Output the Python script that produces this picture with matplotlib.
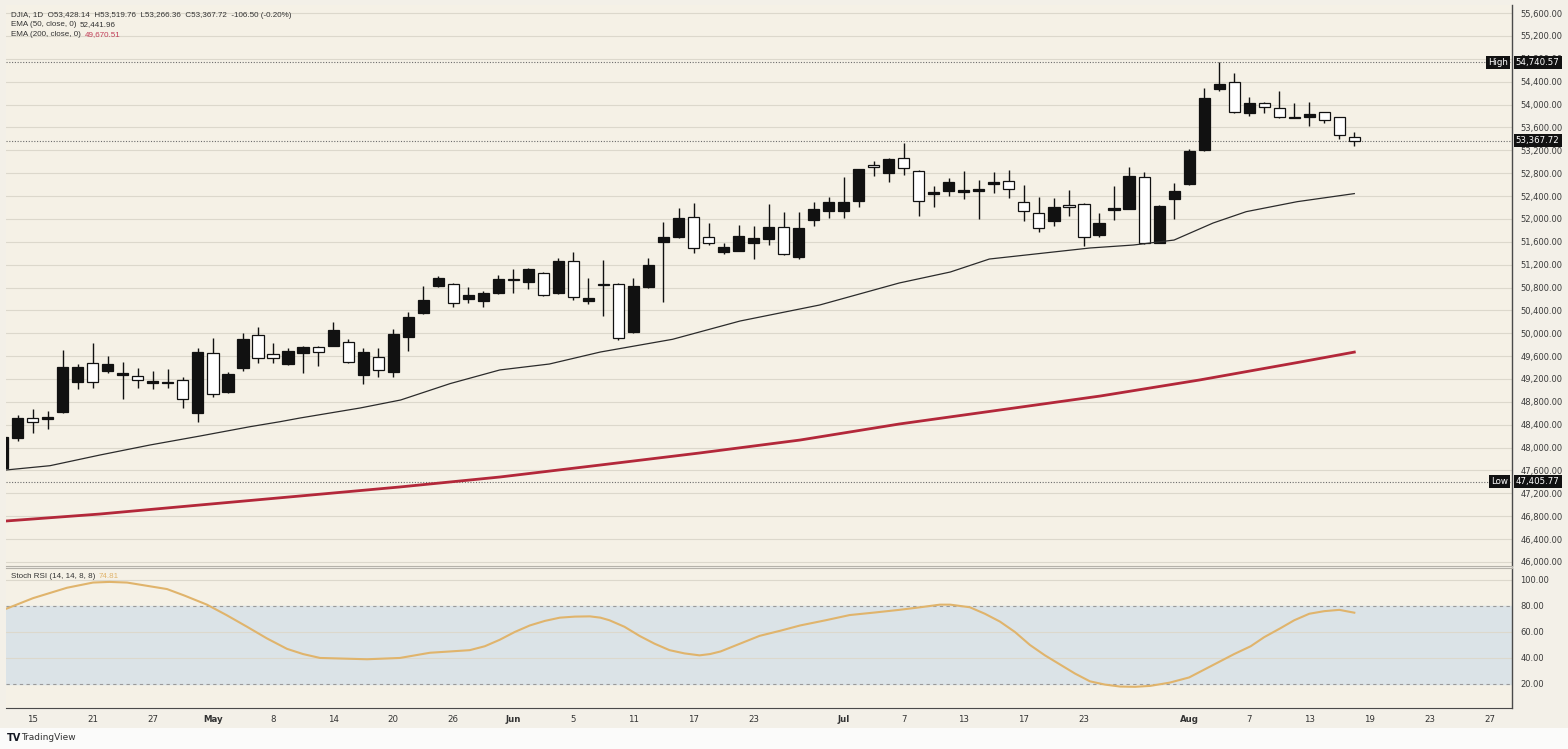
import numpy as np
import matplotlib.pyplot as plt
from matplotlib.transforms import blended_transform_factory

# daily candles, bar -1 is cut off at the left edge
opens = [47640, 48174, 48513, 48500, 48628, 49142, 49474, 49340, 49270, 49252,
         49130, 49135, 49177, 48610, 49649, 48967, 49387, 49969, 49632, 49457,
         49649, 49765, 49777, 49847, 49270, 49579, 49322, 49929, 50354, 50821,
         50866, 50593, 50564, 50698, 50943, 50896, 51059, 50698, 51263, 50564,
         50856, 50856, 50027, 50803, 51595, 51678, 52027, 51688, 51421, 51443,
         51578, 51648, 51852, 51328, 51980, 52143, 52143, 52318, 52942, 52807,
         53059, 52837, 52429, 52487, 52470, 52482, 52604, 52667, 52290, 52102,
         51968, 52237, 52260, 51718, 52160, 52172, 52727, 51583, 52347, 52610,
         53204, 54266, 54398, 53857, 54021, 53944, 53781, 53776, 53863, 53776,
         53428.14]
highs = [48250, 48570, 48670, 48646, 49707, 49462, 49824, 49602, 49497, 49398,
         49340, 49370, 49240, 49737, 49911, 49328, 49999, 50114, 49835, 49747,
         49777, 49780, 50202, 49894, 49737, 49747, 50069, 50377, 50826, 51001,
         50884, 50814, 50744, 51024, 51118, 51141, 51076, 51310, 51415, 50961,
         51281, 50870, 50961, 51310, 51940, 52185, 52272, 51922, 51573, 51893,
         51875, 52260, 52125, 52125, 52300, 52388, 52737, 52880, 53017, 53060,
         53332, 52850, 52575, 52709, 52842, 52680, 52825, 52854, 52592, 52388,
         52359, 52505, 52270, 52097, 52580, 52912, 52825, 52235, 52622, 53217,
         54283, 54740.57, 54545, 54126, 54049, 54236, 54031, 54038, 53870, 53785,
         53519.76]
lows = [47405.77, 48121, 48261, 48326, 48610, 49025, 49048, 49299, 48850, 49048,
        49020, 49048, 48687, 48453, 48890, 48950, 49340, 49474, 49474, 49450,
        49299, 49432, 49770, 49485, 49112, 49230, 49230, 49695, 50340, 50810,
        50464, 50534, 50459, 50690, 50709, 50774, 50660, 50681, 50581, 50511,
        50307, 49890, 49999, 50790, 50552, 51670, 51398, 51543, 51386, 51435,
        51293, 51543, 51368, 51293, 51880, 52020, 52010, 52202, 52749, 52639,
        52767, 52050, 52213, 52405, 52342, 51992, 52447, 52359, 51968, 51776,
        51875, 52050, 51525, 51688, 51980, 52165, 51555, 51570, 51992, 52600,
        53190, 54236, 53857, 53804, 53857, 53759, 53759, 53624, 53671, 53396,
        53266.36]
closes = [48190, 48523, 48443, 48541, 49415, 49415, 49142, 49462, 49299, 49188,
          49160, 49150, 48845, 49667, 48937, 49287, 49899, 49562, 49562, 49689,
          49754, 49677, 50057, 49502, 49672, 49362, 49992, 50279, 50576, 50966,
          50534, 50663, 50698, 50954, 50931, 51118, 50669, 51258, 50639, 50621,
          50850, 49911, 50826, 51193, 51688, 52010, 51485, 51573, 51508, 51700,
          51660, 51863, 51380, 51845, 52167, 52300, 52300, 52867, 52907, 53047,
          52884, 52318, 52464, 52639, 52500, 52517, 52650, 52527, 52143, 51835,
          52213, 52202, 51678, 51922, 52185, 52749, 51573, 52225, 52487, 53187,
          54108, 54353, 53874, 54031, 53951, 53776, 53764, 53834, 53729, 53466,
          53367.72]
bars = np.arange(-1, len(opens) - 1)

# indicator lines (bar index, value)
ema50_bar = [-0.78, 2.15, 5.48, 8.81, 12.14, 15.47, 17.46, 18.8, 22.8, 25.5, 28.8, 32.1,
             35.4, 38.8, 43.6, 48.1, 53.4, 58.7, 62.1, 64.7, 71.4, 74.3, 77.0, 79.6,
             81.8, 85.2, 89]
ema50_val = [47609, 47684, 47871, 48046, 48203, 48366, 48453, 48518, 48693, 48833, 49120, 49358,
             49462, 49672, 49894, 50214, 50494, 50879, 51071, 51298, 51491, 51543, 51630, 51928,
             52126, 52301, 52441.96]
ema200_bar = [-0.78, 5.48, 12.14, 18.8, 25.45, 32.1, 38.8, 45.4, 52.1, 58.7, 65.4, 72.1,
              78.7, 85.4, 89]
ema200_val = [46717, 46839, 46997, 47154, 47312, 47486, 47696, 47906, 48133, 48413, 48658, 48903,
              49183, 49497, 49670.51]
stoch_bar = [-0.73, 1.02, 3.28, 5.01, 6.1, 7.28, 9.94, 11.1, 12.6, 13.9, 15.27, 16.6,
             17.93, 19.0, 20.13, 23.26, 25.45, 27.45, 28.8, 30.1, 31.1, 32.1, 33.1, 34.1,
             35.1, 36.1, 37.1, 38.1, 38.8, 39.4, 40.4, 41.4, 42.4, 43.4, 44.4, 45.4,
             46.1, 46.8, 48.1, 49.4, 50.8, 52.1, 53.8, 55.4, 57.1, 58.7, 60.1, 61.4,
             62.1, 63.4, 64.4, 65.4, 66.4, 67.4, 68.4, 69.4, 70.4, 71.4, 72.4, 73.4,
             74.4, 75.4, 76.7, 78.0, 79.0, 80.0, 81.0, 82.1, 83.0, 84.1, 85.0, 86.0,
             87.0, 88.0, 89]
stoch_val = [78, 86, 94, 98, 98.5, 98, 93, 88, 81, 73, 64, 55,
             47, 43, 40, 39, 40, 44, 45, 46, 49, 54, 60, 65,
             68.5, 71, 71.8, 72, 71, 69, 64, 57, 51, 46, 43.5, 42,
             43, 45, 51, 57, 61, 65, 69, 73, 75, 77, 79, 81,
             81, 79, 74, 68, 60, 50, 42, 35, 28, 22, 19.5, 18,
             17.8, 18.5, 21, 25, 31, 37, 43, 49, 56, 63, 69, 74,
             76, 77, 74.81]

tick_bars = [1, 5, 9, 13, 17, 21, 25, 29, 33, 37, 41, 45, 49, 55, 59, 63, 67, 71,
             78, 82, 86, 90, 94, 98]
tick_labels = ['15', '21', '27', 'May', '8', '14', '20', '26', 'Jun', '5', '11', '17', '23',
               'Jul', '7', '13', '17', '23', 'Aug', '7', '13', '19', '23', '27']
months = {'May', 'Jun', 'Jul', 'Aug'}

high_val, low_val, last_val = 54740.57, 47405.77, 53367.72

bg = '#f5f1e6'
grid_c = '#dcd8cc'
lab_font = 'Liberation Sans'
W, H = 1568, 749
fig = plt.figure(figsize=(W / 100, H / 100), dpi=100)
fig.patch.set_facecolor('#f3f0e8')
fig.patches.append(plt.Rectangle((0, 0), 1, 1 - 728 / H, transform=fig.transFigure,
                                 facecolor='#fbfbfa', edgecolor='none', zorder=0))

left, right = 6 / W, 1512 / W
ax = fig.add_axes([left, 1 - 566 / H, right - left, 561 / H])
ax2 = fig.add_axes([left, 1 - 708 / H, right - left, 140 / H], sharex=ax)
for a in (ax, ax2):
    a.set_facecolor(bg)
    for s in ('left', 'top', 'bottom'):
        a.spines[s].set_visible(False)
    a.spines['right'].set_color('#4a4a4a')
    a.spines['right'].set_linewidth(1)
    a.yaxis.tick_right()
    a.tick_params(axis='y', length=0, pad=6, labelsize=6, labelcolor='#3a3a3a')

# price pane
ax.set_xlim(-0.78, 99.5)
ax.set_ylim(45930, 55740)
yt = np.arange(46000, 55601, 400)
ax.set_yticks(yt)
ax.set_yticklabels([f'{v:,.2f}' for v in yt])
for v in yt:
    ax.axhline(v, color=grid_c, lw=0.8, zorder=0)
ax.tick_params(axis='x', which='both', bottom=False, labelbottom=False)
ax.spines['bottom'].set_visible(True)
ax.spines['bottom'].set_color('#b5b2aa')

o = np.array(opens); c = np.array(closes)
up = c >= o
ax.vlines(bars, lows, highs, color='#111111', lw=1, zorder=2)
body_lo = np.minimum(o, c)
body_h = np.maximum(np.abs(c - o), 12)
ax.bar(bars, body_h, bottom=body_lo, width=0.74,
       color=np.where(up, '#111111', '#ffffff'), edgecolor='#111111', linewidth=0.9, zorder=3)

ax.plot(ema200_bar, ema200_val, color='#b3283a', lw=2, zorder=4)
ax.plot(ema50_bar, ema50_val, color='#2b2b2b', lw=0.9, zorder=4)

for v in (high_val, low_val, last_val):
    ax.axhline(v, color='#6b6b6b', lw=0.8, ls=(0, (1, 1.5)), zorder=1)

tr = blended_transform_factory(ax.transAxes, ax.transData)
box = dict(facecolor='#111111', edgecolor='none', boxstyle='square,pad=0.25')
for v, tag in ((high_val, 'High'), (low_val, 'Low'), (last_val, None)):
    ax.text(1.0025, v, f'{v:,.2f}', transform=tr, ha='left', va='center', fontsize=6.2,
            color='white', bbox=box, clip_on=False, zorder=10)
    if tag:
        ax.text(0.9975, v, tag, transform=tr, ha='right', va='center', fontsize=6.2,
                color='white', bbox=box, clip_on=False, zorder=10)

# legend lines
fs = 5.8
t1 = ax.text(5 / 1506, 1 - 10.5 / 561, 'DJIA, 1D  O53,428.14  H53,519.76  L53,266.36  '
             'C53,367.72  -106.50 (-0.20%)', transform=ax.transAxes, fontsize=fs,
             family=lab_font, color='#333333', va='center', ha='left')
t2 = ax.text(5 / 1506, 1 - 20 / 561, 'EMA (50, close, 0)', transform=ax.transAxes,
             fontsize=fs, family=lab_font, color='#333333', va='center', ha='left')
ax.annotate('52,441.96', xy=(1, 0), xycoords=t2, xytext=(2.5, 0), textcoords='offset points',
            fontsize=fs, family=lab_font, color='#333333', va='bottom')
t3 = ax.text(5 / 1506, 1 - 29.5 / 561, 'EMA (200, close, 0)', transform=ax.transAxes,
             fontsize=fs, family=lab_font, color='#333333', va='center', ha='left')
ax.annotate('49,670.51', xy=(1, 0), xycoords=t3, xytext=(2.5, 0), textcoords='offset points',
            fontsize=fs, family=lab_font, color='#c2405a', va='bottom')

# stoch rsi pane
ax2.set_ylim(1.5, 109.2)
ax2.axhspan(20, 80, color='#dbe3e7', zorder=0)
for v in (40, 60, 100):
    ax2.axhline(v, color=grid_c, lw=0.8, zorder=1)
for v in (20, 80):
    ax2.axhline(v, color='#9a9a9a', lw=0.8, ls=(0, (3, 3)), zorder=1)
ax2.plot(stoch_bar, stoch_val, color='#e0b46c', lw=1.5, zorder=3)
ax2.set_yticks([20, 40, 60, 80, 100])
ax2.set_yticklabels(['20.00', '40.00', '60.00', '80.00', '100.00'])
ax2.spines['top'].set_visible(True)
ax2.spines['top'].set_color('#b5b2aa')
ax2.spines['bottom'].set_visible(True)
ax2.spines['bottom'].set_color('#4a4a4a')
ax2.set_xticks(tick_bars)
ax2.set_xticklabels(tick_labels)
ax2.tick_params(axis='x', length=0, pad=5, labelsize=6.2, labelcolor='#333333')
for lab in ax2.get_xticklabels():
    if lab.get_text() in months:
        lab.set_fontweight('bold')
st = ax2.text(5 / 1506, 1 - 9 / 140, 'Stoch RSI (14, 14, 8, 8)', transform=ax2.transAxes,
              fontsize=fs, family=lab_font, color='#333333', va='center', ha='left')
ax2.annotate('74.81', xy=(1, 0), xycoords=st, xytext=(2.5, 0), textcoords='offset points',
             fontsize=fs, family=lab_font, color='#e0b46c', va='bottom')

# footer logo
fig.text(7 / W, 1 - 738 / H, 'TV', fontsize=7, fontweight='bold', color='#131722', va='center')
fig.text(21 / W, 1 - 738 / H, 'TradingView', fontsize=6.5, color='#333333', va='center')

fig.savefig('out.png', dpi=100, facecolor=fig.get_facecolor())
